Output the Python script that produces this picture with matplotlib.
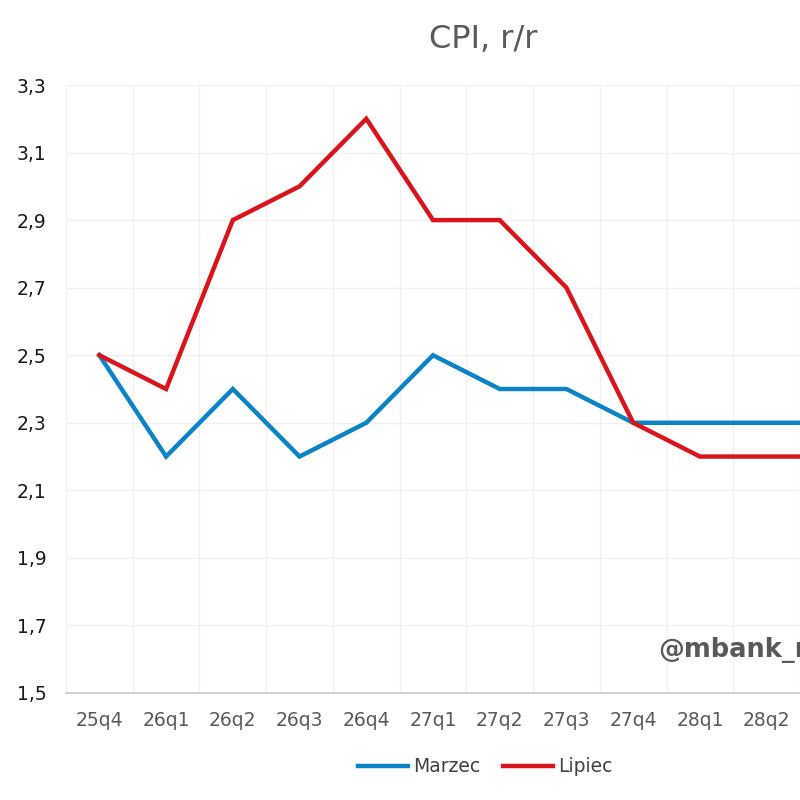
import matplotlib
matplotlib.use("Agg")
import matplotlib.pyplot as plt
import numpy as np

categories = ["25q4", "26q1", "26q2", "26q3", "26q4", "27q1", "27q2", "27q3", "27q4", "28q1", "28q2", "28q3"]
marzec = [2.5, 2.2, 2.4, 2.2, 2.3, 2.5, 2.4, 2.4, 2.3, 2.3, 2.3, 2.3]
lipiec = [2.5, 2.4, 2.9, 3.0, 3.2, 2.9, 2.9, 2.7, 2.3, 2.2, 2.2, 2.2]
yticks = [1.5, 1.7, 1.9, 2.1, 2.3, 2.5, 2.7, 2.9, 3.1, 3.3]

plt.rcParams['font.family'] = ['DejaVu Sans']
fig = plt.figure(figsize=(8, 8), dpi=100)
ax = fig.add_axes([66/800, 1-693/800, 1-66/800, (693-85)/800])

x = np.arange(len(categories))
ax.plot(x, marzec, color="#0a84c6", lw=3.2, label="Marzec", solid_joinstyle="miter")
ax.plot(x, lipiec, color="#d9151b", lw=3.2, label="Lipiec", solid_joinstyle="miter")

ax.set_xlim(-0.5, 10.45)
ax.set_ylim(1.5, 3.3)
ax.set_yticks(yticks)
ax.set_yticklabels([f"{v:.1f}".replace(".", ",") for v in yticks], fontsize=13.5, color="#1a1a1a")
ax.set_xticks(x[:11])
ax.set_xticklabels(categories[:11], fontsize=13.5, color="#595959")
ax.set_xticks(np.arange(-0.5, 11, 1), minor=True)
ax.tick_params(axis="both", which="both", length=0)
ax.tick_params(axis="x", pad=13)
ax.tick_params(axis="y", pad=14)

ax.grid(True, axis="y", which="major", color="#f0f0f0", lw=1)
ax.grid(True, axis="x", which="minor", color="#f0f0f0", lw=1)
ax.set_axisbelow(True)
for s in ["top", "right", "left"]:
    ax.spines[s].set_visible(False)
ax.spines["bottom"].set_color("#c8c8c8")
ax.spines["bottom"].set_linewidth(1.2)

fig.text(483/800, 1-40/800, "CPI, r/r", ha="center", va="center", fontsize=23, color="#595959")
fig.text(658/800, 1-650/800, "@mbank_research", ha="left", va="center", fontsize=18.5,
         fontweight="bold", color="#595959")

leg = fig.legend(loc="center", bbox_to_anchor=(485/800, 1-767/800), ncol=2, frameon=False,
                 fontsize=13.5, handlelength=2.7, handletextpad=0.25, columnspacing=1.2)
for t in leg.get_texts():
    t.set_color("#404040")
for h in leg.get_lines():
    h.set_linewidth(3.2)

fig.savefig("out.png", dpi=100)
